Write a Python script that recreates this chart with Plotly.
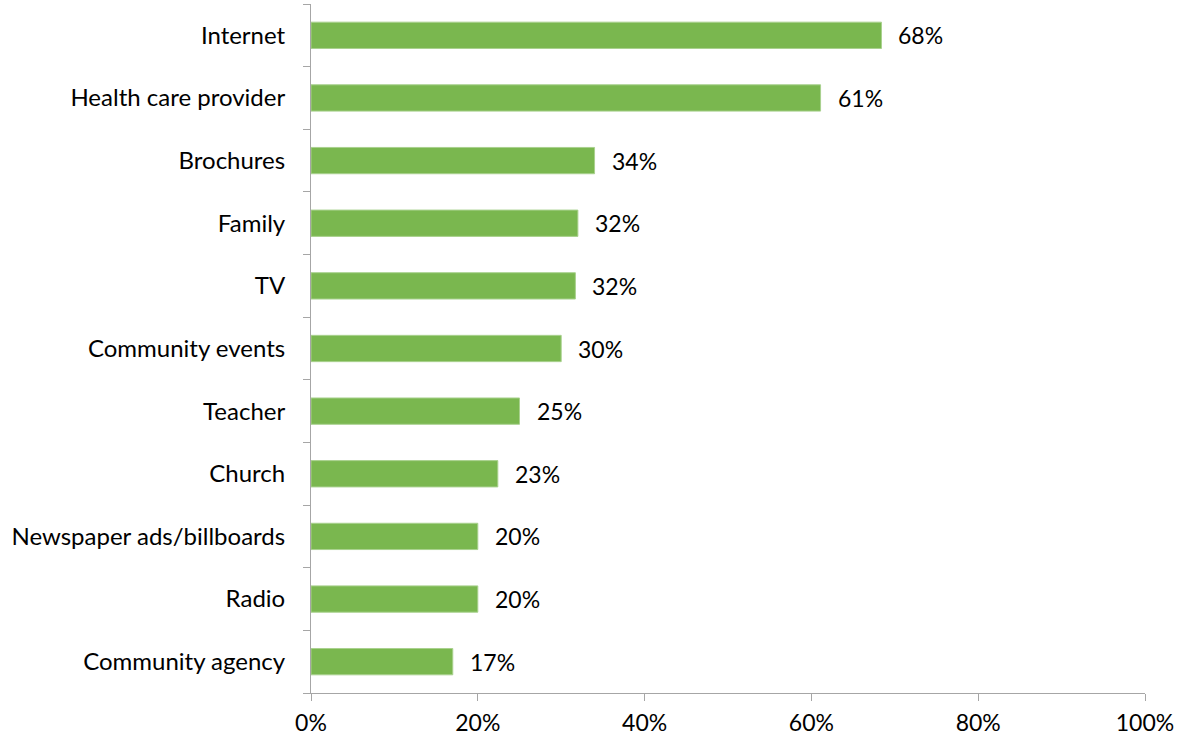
import plotly.graph_objects as go

categories = [
    "Internet", "Health care provider", "Brochures", "Family", "TV",
    "Community events", "Teacher", "Church", "Newspaper ads/billboards",
    "Radio", "Community agency",
]
values = [68.4, 61.1, 34.0, 32.0, 31.7, 30.0, 25.0, 22.4, 20.0, 20.0, 17.0]
labels = ["68%", "61%", "34%", "32%", "32%", "30%", "25%", "23%", "20%", "20%", "17%"]

font = "Lato, 'Noto Sans', sans-serif"
axis_grey = "#a6a6a6"

fig = go.Figure()
fig.add_trace(go.Bar(
    x=values,
    y=categories,
    orientation="h",
    width=0.42,
    marker=dict(color="#7ab74f", line=dict(color="#a9d18e", width=1)),
    hoverinfo="skip",
))

for cat, v, lab in zip(categories, values, labels):
    fig.add_annotation(
        x=v, y=cat, text=lab, showarrow=False,
        xanchor="left", xshift=15,
        font=dict(family=font, size=23, color="black"),
    )

fig.update_layout(
    width=1177, height=740,
    margin=dict(l=311, r=32, t=4, b=47),
    paper_bgcolor="white", plot_bgcolor="white",
    showlegend=False,
    font=dict(family=font, size=23, color="black"),
)
fig.update_xaxes(
    range=[0, 100],
    tickvals=[0, 20, 40, 60, 80, 100],
    ticktext=["0%", "20%", "40%", "60%", "80%", "100%"],
    showgrid=False, zeroline=False,
    showline=True, linecolor=axis_grey, linewidth=1,
    ticks="outside", ticklen=7, tickcolor=axis_grey,
    ticklabelstandoff=2,
    tickfont=dict(size=23),
)
fig.update_yaxes(
    categoryorder="array", categoryarray=categories[::-1],
    tickson="boundaries",
    showgrid=False, zeroline=False,
    showline=True, linecolor=axis_grey, linewidth=1,
    ticks="outside", ticklen=7, tickcolor=axis_grey,
    ticklabelstandoff=20,
    tickfont=dict(size=24),
)

# the page body has a default 8px margin; drop it so the chart fills the window
fig.write_html(
    "out.html",
    config={"displayModeBar": False},
    post_script="document.body.style.margin='0';",
)
